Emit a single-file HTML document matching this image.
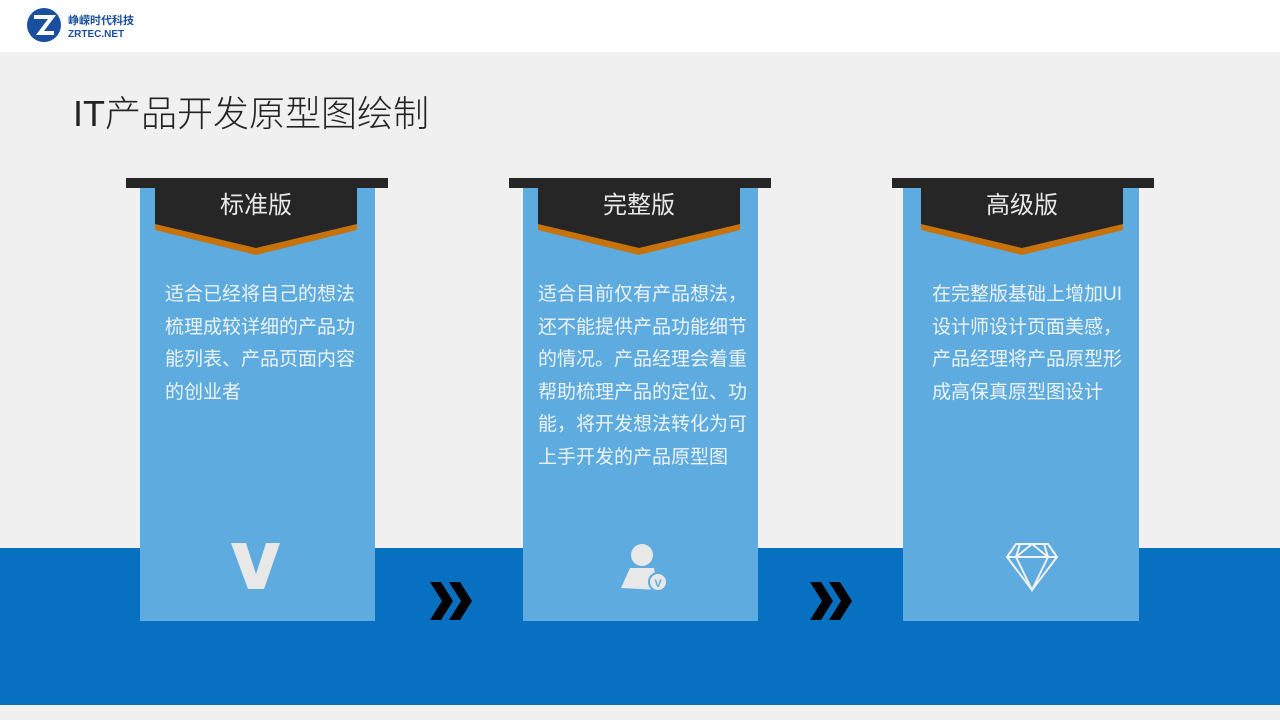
<!DOCTYPE html>
<html><head><meta charset="utf-8"><style>
*{margin:0;padding:0;box-sizing:border-box}
body{width:1280px;height:720px;position:relative;overflow:hidden;background:#f0f0f0;font-family:"Liberation Sans","Noto Sans CJK SC",sans-serif}
.hdr{position:absolute;left:0;top:0;width:1280px;height:52px;background:#fff}
.band{position:absolute;left:0;top:548px;width:1280px;height:157px;background:#0870c0}
.title{position:absolute;left:73px;top:85px;font-size:36px;color:#222;font-weight:300}
.card{position:absolute;top:188px;width:235px;height:433px;background:#5dabdf}
.bar{position:absolute;top:178px;width:262px;height:10px;background:#262626}
.txt{position:absolute;color:#eef3f7;font-size:19px;line-height:32.5px}
.lab{position:absolute;top:185px;width:202px;text-align:center;color:#e8e8e8;font-size:24px}
</style></head><body>
<div class="hdr"></div>
<svg style="position:absolute;left:26px;top:7px" width="120" height="38">
<circle cx="18" cy="18" r="17" fill="#1a4fa0"/>
<path d="M8 10 L26 10 L14 26 L28 26" stroke="#fff" stroke-width="4" fill="none"/>
<text x="42" y="17" font-size="11" font-weight="bold" fill="#1a4fa0" font-family="Noto Sans CJK SC,sans-serif">峥嵘时代科技</text>
<text x="42" y="30" font-size="10" font-weight="bold" fill="#1a4fa0" font-family="Liberation Sans,sans-serif">ZRTEC.NET</text>
</svg>
<div class="title">IT产品开发原型图绘制</div>
<div class="band"></div>

<div class="card" style="left:140px"></div>
<div class="card" style="left:523px"></div>
<div class="card" style="left:903px;width:236px"></div>
<div class="bar" style="left:126px"></div>
<div class="bar" style="left:509px"></div>
<div class="bar" style="left:892px"></div>
<svg style="position:absolute;left:0;top:0" width="1280" height="720">
<g fill="#c8720c"><polygon points="155,222 357,222 357,230 256,255 155,230"/><polygon points="538,222 740,222 740,230 639,255 538,230"/><polygon points="921,222 1123,222 1123,230 1022,255 921,230"/></g>
<g fill="#262626"><polygon points="155,188 357,188 357,224 256,248 155,224"/><polygon points="538,188 740,188 740,224 639,248 538,224"/><polygon points="921,188 1123,188 1123,224 1022,248 921,224"/></g>
<polygon points="231,543 246,543 256,574 266,543 280,543 264,589 248,589" fill="#e8e8e8"/>
<circle cx="642" cy="555" r="11" fill="#e8e8e8"/>
<path d="M630 568 L654 568 L658 590 L621 588 Z" fill="#e8e8e8"/>
<circle cx="658" cy="582" r="9" fill="#e8e8e8" stroke="#5dabdf" stroke-width="2"/>
<text x="658" y="587" font-size="11" text-anchor="middle" fill="#5dabdf" font-weight="bold" font-family="Liberation Sans">V</text>
<g fill="none" stroke="#f2f2f2" stroke-width="2"><polygon points="1016,544 1048,544 1057,557 1032,590 1007,557"/><path d="M1007,557 H1057 M1020,544 L1016,557 L1032,590 L1048,557 L1044,544 M1016,557 L1032,544 L1048,557"/></g>
<g fill="#000"><polygon points="430,582 441,582 453,601 441,620 430,620 442,601"/><polygon points="449,582 460,582 472,601 460,620 449,620 461,601"/>
<polygon points="810,582 821,582 833,601 821,620 810,620 822,601"/><polygon points="829,582 840,582 852,601 840,620 829,620 841,601"/></g>
</svg>
<div class="lab" style="left:155px">标准版</div>
<div class="lab" style="left:538px">完整版</div>
<div class="lab" style="left:921px">高级版</div>
<div class="txt" style="left:165px;top:279px;width:200px">适合已经将自己的想法梳理成较详细的产品功能列表、产品页面内容的创业者</div>
<div class="txt" style="left:538px;top:279px;width:218px">适合目前仅有产品想法，还不能提供产品功能细节的情况。产品经理会着重帮助梳理产品的定位、功能，将开发想法转化为可上手开发的产品原型图</div>
<div class="txt" style="left:932px;top:279px;width:200px">在完整版基础上增加UI设计师设计页面美感，产品经理将产品原型形成高保真原型图设计</div>
</body></html>
